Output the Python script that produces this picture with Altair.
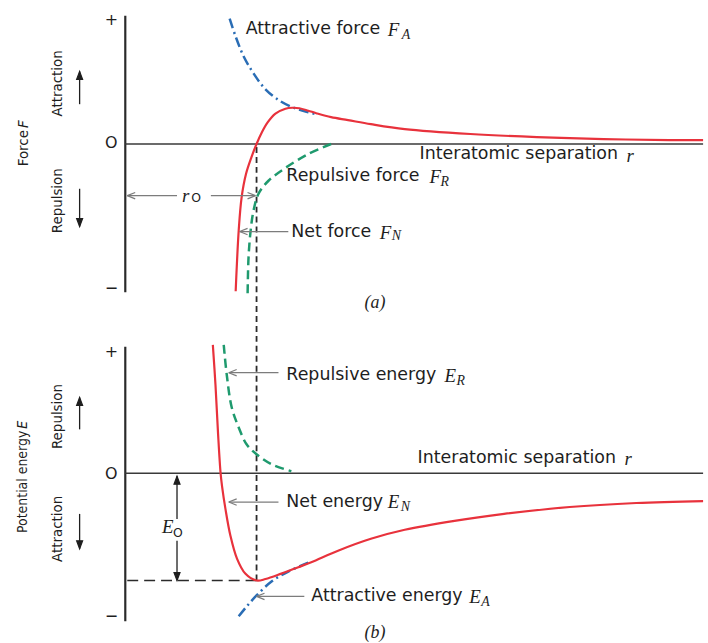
import altair as alt
import pandas as pd

# ---------------- data (r in units of r0; F and E in arbitrary units) ----------------
# (a) force curves
FA_r = [0.795, 0.841, 0.902, 0.977, 1.068, 1.182, 1.295, 1.394, 1.455]
FA_v = [1.016, 0.871, 0.710, 0.573, 0.444, 0.347, 0.290, 0.258, 0.242]
FN_r = [0.841, 0.848, 0.864, 0.886, 0.920, 0.962, 1.000, 1.038, 1.083, 1.144, 1.220, 1.273,
        1.326, 1.394, 1.455, 1.568, 1.697, 1.871, 2.129, 2.629, 3.136, 3.644, 4.144, 4.402]
FN_v = [-1.194, -1.024, -0.702, -0.435, -0.242, -0.105, 0.000, 0.089, 0.173, 0.246, 0.286, 0.294,
        0.290, 0.270, 0.250, 0.218, 0.194, 0.161, 0.121, 0.081, 0.056, 0.040, 0.032, 0.032]
FR_r = [0.932, 0.939, 0.955, 0.977, 1.015, 1.091, 1.220, 1.394, 1.568]
FR_v = [-1.210, -0.919, -0.702, -0.540, -0.403, -0.298, -0.194, -0.081, 0.000]

# (b) energy curves
EN_r = [0.667, 0.687, 0.707, 0.726, 0.737, 0.763, 0.801, 0.851, 0.914, 1.000, 1.068, 1.189,
        1.318, 1.417, 1.621, 1.871, 2.129, 2.508, 2.886, 3.386, 3.894, 4.402]
EN_v = [1.057, 0.730, 0.320, 0.000, -0.107, -0.295, -0.516, -0.705, -0.828, -0.885, -0.873, -0.828,
        -0.775, -0.734, -0.639, -0.541, -0.467, -0.393, -0.336, -0.279, -0.246, -0.230]
ER_r = [0.750, 0.773, 0.811, 0.864, 0.924, 1.000, 1.114, 1.265]
ER_v = [1.057, 0.811, 0.541, 0.377, 0.238, 0.156, 0.074, 0.016]
EA_r = [0.864, 0.932, 1.000, 1.114, 1.242, 1.394]
EA_v = [-1.180, -1.090, -1.008, -0.893, -0.811, -0.738]

R0 = 1.0
E0 = -0.885
R_MAX = 4.402

# labels: (text, r, value)
TOP_LABELS = [("Attractive force", 0.917, 0.935), ("Interatomic separation", 2.242, -0.081),
              ("Repulsive force", 1.227, -0.258), ("Net force", 1.265, -0.710)]
TOP_MATH = [("F", 2.000, 0.927), ("r", 3.818, -0.097), ("F", 2.318, -0.266),
            ("F", 1.939, -0.718), ("r", 0.432, -0.419)]
TOP_SUB = [("A", 2.106, 0.887), ("R", 2.402, -0.306), ("N", 2.030, -0.750)]
TOP_SUB_UP = [("O", 0.503, -0.440)]
TOP_TICKS = [("+", -0.106, 1.008), ("O", -0.106, 0.008), ("\u2212", -0.106, -1.169)]
TOP_PANEL = [("(a)", 1.902, -1.290)]
TOP_ROT = [("Attraction", -0.523, 0.492), ("Repulsion", -0.523, -0.460)]
TOP_ROT_TITLE = [("Force", -0.780, 0.113)]
TOP_ROT_MATH = [("F", -0.780, 0.129)]

BOT_LABELS = [("Repulsive energy", 1.227, 0.811), ("Interatomic separation", 2.227, 0.123),
              ("Net energy", 1.227, -0.238), ("Attractive energy", 1.417, -1.016)]
BOT_MATH = [("E", 2.432, 0.803), ("r", 3.803, 0.115), ("E", 2.000, -0.238),
            ("E", 2.621, -1.025), ("E", 0.280, -0.443)]
BOT_SUB = [("R", 2.523, 0.762), ("N", 2.098, -0.279), ("A", 2.712, -1.066)]
BOT_SUB_UP = [("O", 0.364, -0.492)]
BOT_TICKS = [("+", -0.106, 1.000), ("O", -0.106, -0.008), ("\u2212", -0.106, -1.180)]
BOT_PANEL = [("(b)", 1.902, -1.320)]
BOT_ROT = [("Repulsion", -0.523, 0.467), ("Attraction", -0.523, -0.459)]
BOT_ROT_TITLE = [("Potential energy", -0.780, 0.350)]
BOT_ROT_MATH = [("E", -0.780, 0.367)]

# arrows: (r, v, r2, v2) shafts and (r, v, direction) heads
TOP_GRAY_SHAFTS = [(0.015, -0.419, 0.394, -0.419), (0.652, -0.419, 0.992, -0.419),
                   (1.242, -0.710, 0.871, -0.710)]
TOP_GRAY_HEADS = [(0.015, -0.419, "left"), (0.992, -0.419, "right"), (0.871, -0.710, "left")]
TOP_BLACK_SHAFTS = [(-0.348, 0.323, -0.348, 0.589), (-0.348, -0.363, -0.348, -0.669)]
TOP_BLACK_HEADS = [(-0.348, 0.589, "up"), (-0.348, -0.669, "down")]

BOT_GRAY_SHAFTS = [(1.167, 0.828, 0.788, 0.828), (1.167, -0.238, 0.788, -0.238),
                   (1.364, -1.016, 1.000, -1.016)]
BOT_GRAY_HEADS = [(0.788, 0.828, "left"), (0.788, -0.238, "left"), (1.000, -1.016, "left")]
BOT_BLACK_SHAFTS = [(-0.348, 0.361, -0.348, 0.623), (-0.348, -0.336, -0.348, -0.623),
                    (0.394, -0.377, 0.394, -0.025), (0.394, -0.557, 0.394, E0)]
BOT_BLACK_HEADS = [(-0.348, 0.623, "up"), (-0.348, -0.623, "down"),
                   (0.394, -0.025, "up"), (0.394, E0, "down")]

# ---------------- styling ----------------
RED = "#e8323c"
BLUE = "#2a6db5"
GREEN = "#1f9a6e"
GRAY = "#7c7c7c"
INK = "#1e1e1e"
SANS = "DejaVu Sans"
NARROW = "Liberation Sans Narrow, DejaVu Sans Condensed, Liberation Sans"
SERIF = "Liberation Serif"

W = 708
H_TOP, H_BOT = 322, 321
XS = alt.Scale(domain=[-126 / 132, 582 / 132], nice=False, zero=False)
YS_TOP = alt.Scale(domain=[-179 / 124, 143 / 124], nice=False, zero=False)
YS_BOT = alt.Scale(domain=[-169 / 122, 152 / 122], nice=False, zero=False)

HEAD_OPEN = {"left": "M0,0L2,-0.8M0,0L2,0.8", "right": "M0,0L-2,-0.8M0,0L-2,0.8",
             "up": "M0,0L-0.8,2M0,0L0.8,2", "down": "M0,0L-0.8,-2M0,0L0.8,-2"}
HEAD_FILL = {"left": "M0,0L2,-0.75L2,0.75Z", "right": "M0,0L-2,-0.75L-2,0.75Z",
             "up": "M0,0L-0.75,2L0.75,2Z", "down": "M0,0L-0.75,-2L0.75,-2Z"}


def enc(ys):
    return dict(x=alt.X("r:Q", scale=XS, axis=None), y=alt.Y("v:Q", scale=ys, axis=None))


def curve(r, v, ys, color, dash=None, width=2.0):
    kw = dict(color=color, strokeWidth=width, interpolate="catmull-rom", strokeCap="butt")
    if dash:
        kw["strokeDash"] = dash
    return alt.Chart(pd.DataFrame({"r": r, "v": v})).mark_line(**kw).encode(**enc(ys))


def texts(rows, ys, **kw):
    df = pd.DataFrame(rows, columns=["t", "r", "v"])
    return alt.Chart(df).mark_text(**kw).encode(text="t:N", **enc(ys))


def segs(rows, ys, **kw):
    df = pd.DataFrame(rows, columns=["r", "v", "r2", "v2"])
    return alt.Chart(df).mark_rule(**kw).encode(x2="r2:Q", y2="v2:Q", **enc(ys))


def heads(rows, ys, color, filled):
    df = pd.DataFrame(rows, columns=["r", "v", "dir"])
    paths = HEAD_FILL if filled else HEAD_OPEN
    out = []
    for d in df["dir"].unique():
        sub = df[df["dir"] == d]
        kw = dict(shape=paths[d], opacity=1, size=64, strokeWidth=1.2)
        if filled:
            kw.update(filled=True, fill=color, stroke=color)
        else:
            kw.update(filled=False, stroke=color)
        out.append(alt.Chart(sub).mark_point(**kw).encode(**enc(ys)))
    return out


def panel(ys, axis_lo, axis_hi, curves, labels, math, sub, sub_up, ticks, plabel,
          rot, rot_title, rot_math, gray_s, gray_h, black_s, black_h, extra, dash_lo, dash_hi,
          height, title_size):
    layers = [
        # vertical axis and zero line
        segs([(0.0, axis_lo, 0.0, axis_hi)], ys, color="#2a2a2a", strokeWidth=2.2),
        segs([(0.0, 0.0, R_MAX, 0.0)], ys, color="#3a3a3a", strokeWidth=1.5),
        # r0 dashed guide
        segs([(R0, dash_lo, R0, dash_hi)], ys, color="#2a2a2a", strokeWidth=1.8,
             strokeDash=[6, 4]),
    ] + extra + curves + [
        segs(gray_s, ys, color=GRAY, strokeWidth=1.3),
        segs(black_s, ys, color=INK, strokeWidth=1.3),
    ] + heads(gray_h, ys, GRAY, False) + heads(black_h, ys, INK, True) + [
        texts(labels, ys, font=SANS, fontSize=17.5, align="left", baseline="middle", color=INK),
        texts(math, ys, font=SERIF, fontSize=19, fontStyle="italic", align="left",
              baseline="middle", color=INK),
        texts(sub, ys, font=SERIF, fontSize=14, fontStyle="italic", align="left",
              baseline="middle", color=INK),
        texts(sub_up, ys, font=SANS, fontSize=12.5, align="left", baseline="middle", color=INK),
        texts(ticks, ys, font=SANS, fontSize=16, align="center", baseline="middle", color=INK),
        texts(plabel, ys, font=SERIF, fontSize=18, fontStyle="italic", align="center",
              baseline="middle", color=INK),
        texts(rot, ys, font=NARROW, fontSize=15, angle=270, align="center",
              baseline="middle", color=INK),
        texts(rot_title, ys, font=NARROW, fontSize=title_size, angle=270, align="right",
              baseline="middle", color=INK),
        texts(rot_math, ys, font=NARROW, fontSize=title_size, fontStyle="italic", angle=270,
              align="left", baseline="middle", color=INK),
    ]
    return alt.layer(*layers).properties(width=W, height=height)


top = panel(
    YS_TOP, -1.202, 1.040,
    [curve(FR_r, FR_v, YS_TOP, GREEN, [9, 5], 2.5),
     curve(FA_r, FA_v, YS_TOP, BLUE, [10, 4, 2, 4], 2.5),
     curve(FN_r, FN_v, YS_TOP, RED, None, 2.2)],
    TOP_LABELS, TOP_MATH, TOP_SUB, TOP_SUB_UP, TOP_TICKS, TOP_PANEL,
    TOP_ROT, TOP_ROT_TITLE, TOP_ROT_MATH,
    TOP_GRAY_SHAFTS, TOP_GRAY_HEADS, TOP_BLACK_SHAFTS, TOP_BLACK_HEADS,
    [], -179 / 124, 0.0, H_TOP, 15)

bottom = panel(
    YS_BOT, -1.221, 1.041,
    [curve(ER_r, ER_v, YS_BOT, GREEN, [9, 5], 2.5),
     curve(EA_r, EA_v, YS_BOT, BLUE, [10, 4, 2, 4], 2.5),
     curve(EN_r, EN_v, YS_BOT, RED, None, 2.2)],
    BOT_LABELS, BOT_MATH, BOT_SUB, BOT_SUB_UP, BOT_TICKS, BOT_PANEL,
    BOT_ROT, BOT_ROT_TITLE, BOT_ROT_MATH,
    BOT_GRAY_SHAFTS, BOT_GRAY_HEADS, BOT_BLACK_SHAFTS, BOT_BLACK_HEADS,
    [segs([(0.015, E0, R0, E0)], YS_BOT, color="#2a2a2a", strokeWidth=1.5,
          strokeDash=[11, 6])],
    E0, 152 / 122, H_BOT, 14)

chart = alt.vconcat(top, bottom, spacing=0, bounds="flush").properties(
    padding=0, background="white"
).configure_view(stroke=None)

chart.save("out.html", embed_options={"renderer": "svg", "actions": False})
